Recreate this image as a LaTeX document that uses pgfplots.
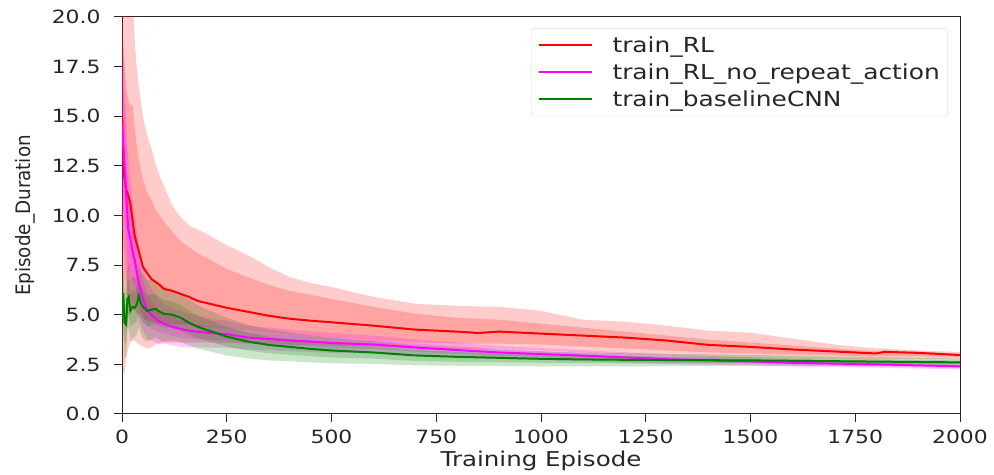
\documentclass[border=0pt]{standalone}
\usepackage{fontspec}
\setmainfont{DejaVu Sans}[FakeStretch=1.2]
\newfontfamily\ylfont{DejaVu Sans}[FakeStretch=0.92]
\usepackage{pgfplots}
\usepgfplotslibrary{fillbetween}
\pgfplotsset{compat=1.18}
\usepackage{pgfplotstable}
\definecolor{mplgreen}{rgb}{0,0.5,0}
\definecolor{mplmag}{rgb}{1,0,1}

\pgfplotstableread{
x m l1 h1 l2 h2
0 15.0 10.0 20.0 2.5 24
5 12.0 7.0 18.0 1.9 24
10 11.3 6.0 16.5 2.8 24
15 11.0 5.7 15.8 3.3 24
20 10.6 5.5 15.5 3.6 24
25 9.8 5.3 15.6 3.7 21
30 9.0 5.2 14.5 3.7 19
35 8.6 5.1 13.6 3.6 17.5
40 8.2 5.0 12.8 3.5 16.5
50 7.4 4.8 11.8 3.4 15
60 7.1 4.7 11.2 3.3 14
70 6.8 4.65 10.8 3.35 13.4
80 6.65 4.6 10.3 3.5 12.6
90 6.5 4.58 10.0 3.55 12.0
100 6.3 4.55 9.7 3.6 11.5
120 6.2 4.52 9.2 3.6 10.5
140 6.05 4.5 8.7 3.6 9.9
160 5.9 4.47 8.4 3.6 9.5
180 5.7 4.43 8.1 3.6 9.3
200 5.6 4.4 7.9 3.6 9.1
250 5.35 4.3 7.3 3.58 8.5
300 5.15 4.2 6.9 3.55 8.0
350 4.95 4.1 6.5 3.52 7.4
400 4.8 4.0 6.2 3.5 6.9
450 4.7 3.92 6.0 3.47 6.6
500 4.62 3.85 5.8 3.45 6.4
600 4.45 3.75 5.4 3.4 5.9
700 4.25 3.6 5.05 3.3 5.55
800 4.15 3.55 4.85 3.28 5.45
850 4.08 3.55 4.8 3.27 5.42
900 4.15 3.55 4.75 3.27 5.4
1000 4.05 3.5 4.55 3.2 5.2
1100 3.95 3.4 4.35 3.1 4.75
1200 3.85 3.3 4.15 3.0 4.65
1300 3.7 3.2 3.95 2.95 4.45
1400 3.48 3.1 3.75 2.85 4.2
1500 3.38 3.05 3.6 2.82 4.1
1600 3.25 3.0 3.45 2.8 3.8
1700 3.15 2.95 3.3 2.78 3.5
1800 3.05 2.9 3.15 2.76 3.3
1820 3.13 2.9 3.2 2.77 3.3
1900 3.08 2.9 3.14 2.78 3.2
2000 2.97 2.88 3.04 2.75 3.12
}\redtab

\pgfplotstableread{
x m l1 h1 l2 h2
0 14.6 11.6 17.6 9.6 19.6
5 12.8 10.0 15.6 8.3 17.3
10 11.0 8.5 13.5 7.0 15.0
15 9.3 7.2 11.4 5.8 12.8
20 8.8 7.0 10.6 5.8 11.8
25 8.2 6.7 9.7 5.6 10.8
30 7.8 6.5 9.1 5.5 10.1
35 7.2 6.0 8.4 5.1 9.3
40 6.6 5.5 7.7 4.7 8.5
50 5.8 4.9 6.7 4.2 7.4
60 5.25 4.45 6.05 3.8 6.7
70 5.0 4.3 5.7 3.7 6.3
80 4.8 4.2 5.4 3.6 6.0
90 4.65 4.1 5.2 3.55 5.75
100 4.55 4.05 5.05 3.55 5.55
120 4.4 3.93 4.87 3.45 5.35
140 4.28 3.84 4.72 3.38 5.18
160 4.2 3.8 4.6 3.35 5.05
180 4.15 3.77 4.53 3.35 4.95
200 4.1 3.75 4.45 3.35 4.85
250 4.02 3.70 4.34 3.34 4.70
300 3.85 3.55 4.15 3.25 4.45
350 3.78 3.50 4.06 3.21 4.35
400 3.7 3.43 3.97 3.16 4.24
450 3.65 3.39 3.91 3.13 4.17
500 3.58 3.33 3.83 3.08 4.08
600 3.5 3.27 3.73 3.05 3.95
700 3.35 3.14 3.56 2.94 3.76
800 3.22 3.03 3.41 2.85 3.59
900 3.1 2.93 3.27 2.77 3.43
1000 3.02 2.87 3.17 2.72 3.32
1100 2.94 2.80 3.08 2.66 3.22
1200 2.85 2.72 2.98 2.59 3.11
1300 2.76 2.64 2.88 2.52 3.00
1400 2.7 2.59 2.81 2.48 2.92
1500 2.65 2.55 2.75 2.45 2.85
1600 2.58 2.48 2.68 2.39 2.77
1700 2.54 2.45 2.63 2.36 2.72
1800 2.5 2.41 2.59 2.33 2.67
1900 2.45 2.37 2.53 2.29 2.61
2000 2.4 2.32 2.48 2.25 2.55
}\magtab

\pgfplotstableread{
x m l1 h1 l2 h2
0 4.8 3.6 6.0 2.8 6.8
3 6.1 5.0 7.2 4.2 8.0
6 4.6 3.6 5.6 2.8 6.4
10 4.5 3.6 5.4 2.9 6.1
13 5.8 4.9 6.7 4.2 7.4
16 5.9 5.0 6.8 4.3 7.5
20 5.2 4.35 6.05 3.65 6.75
25 5.4 4.55 6.25 3.85 6.95
30 5.35 4.55 6.15 3.85 6.85
35 5.5 4.7 6.3 4.0 7.0
40 5.95 5.15 6.75 4.4 7.5
45 5.6 4.8 6.4 4.05 7.15
50 5.4 4.6 6.2 3.8 7.0
60 5.2 4.4 6.0 3.65 6.75
70 5.25 4.47 6.03 3.75 6.75
80 5.3 4.55 6.05 3.85 6.75
90 5.15 4.43 5.87 3.73 6.57
100 5.05 4.35 5.75 3.65 6.45
120 5.0 4.32 5.68 3.7 6.3
140 4.85 4.2 5.5 3.63 6.07
160 4.6 4.0 5.2 3.45 5.75
180 4.4 3.83 4.97 3.3 5.5
200 4.25 3.7 4.8 3.2 5.3
250 3.9 3.4 4.4 2.95 4.85
300 3.65 3.2 4.1 2.8 4.5
350 3.48 3.06 3.9 2.7 4.26
400 3.38 2.98 3.78 2.66 4.10
450 3.28 2.91 3.65 2.60 3.96
500 3.2 2.85 3.55 2.55 3.85
600 3.1 2.79 3.41 2.53 3.67
700 2.95 2.67 3.23 2.45 3.45
800 2.88 2.63 3.13 2.43 3.33
900 2.83 2.61 3.05 2.42 3.24
1000 2.78 2.58 2.98 2.40 3.16
1100 2.75 2.56 2.94 2.40 3.10
1200 2.73 2.55 2.91 2.40 3.06
1300 2.72 2.55 2.89 2.41 3.03
1400 2.71 2.55 2.87 2.41 3.01
1500 2.7 2.55 2.85 2.42 2.98
1600 2.68 2.54 2.82 2.42 2.94
1700 2.66 2.53 2.79 2.42 2.90
1800 2.64 2.52 2.76 2.41 2.87
1900 2.62 2.51 2.73 2.41 2.83
2000 2.6 2.5 2.7 2.4 2.8
}\greentab

\begin{document}
\begin{tikzpicture}
\begin{axis}[
  name=ax,
  scale only axis,
  width=838bp, height=397bp,
  xmin=0, xmax=2000, ymin=0, ymax=20,
  xtick={0,250,...,2000},
  ytick={0,2.5,...,20},
  axis line style={line width=1bp, black!85},
  tick style={line width=1bp, black!85},
  tick align=outside,
  major tick length=8bp,
  xtick pos=bottom, ytick pos=left,
  /pgf/number format/assume math mode=true,
  /pgf/number format/1000 sep={},
  yticklabel style={/pgf/number format/fixed, /pgf/number format/fixed zerofill, /pgf/number format/precision=1, xshift=-10bp},
  xticklabel style={yshift=-4bp},
  ticklabel style={font=\fontsize{18.3}{20}\selectfont, text=black!85},
  xlabel={Training Episode},
  ylabel={\ylfont Episode\_Duration},
  every axis x label/.style={at={(rel axis cs:0.5,0)}, yshift=-47bp, anchor=center, font=\fontsize{20.5}{22}\selectfont, text=black!85},
  every axis y label/.style={at={(rel axis cs:0,0.5)}, xshift=-97bp, rotate=90, anchor=center, font=\fontsize{20}{22}\selectfont, text=black!85},
  legend style={at={(rel axis cs:0.9857,0.972)}, anchor=north east, draw=black!15, rounded corners=3bp, fill=white, font=\fontsize{20.8}{22}\selectfont, text=black!85, row sep=6bp, inner xsep=6bp, inner ysep=6bp,
    /tikz/every odd column/.append style={column sep=18bp}},
  legend cell align=left,
  legend image code/.code={\draw[#1, line width=2bp] (0bp,0bp) -- (53bp,0bp);},
  clip=true,
]
% red bands
\addplot[name path=rH2, draw=none, forget plot] table[x=x,y=h2]{\redtab};
\addplot[name path=rL2, draw=none, forget plot] table[x=x,y=l2]{\redtab};
\addplot[name path=rH1, draw=none, forget plot] table[x=x,y=h1]{\redtab};
\addplot[name path=rL1, draw=none, forget plot] table[x=x,y=l1]{\redtab};
\addplot[fill=red, fill opacity=0.2, draw=none, forget plot] fill between[of=rH2 and rL2];
\addplot[fill=red, fill opacity=0.2, draw=none, forget plot] fill between[of=rH1 and rL1];
% magenta bands
\addplot[name path=mH2, draw=none, forget plot] table[x=x,y=h2]{\magtab};
\addplot[name path=mL2, draw=none, forget plot] table[x=x,y=l2]{\magtab};
\addplot[name path=mH1, draw=none, forget plot] table[x=x,y=h1]{\magtab};
\addplot[name path=mL1, draw=none, forget plot] table[x=x,y=l1]{\magtab};
\addplot[fill=mplmag, fill opacity=0.2, draw=none, forget plot] fill between[of=mH2 and mL2];
\addplot[fill=mplmag, fill opacity=0.2, draw=none, forget plot] fill between[of=mH1 and mL1];
% green bands
\addplot[name path=gH2, draw=none, forget plot] table[x=x,y=h2]{\greentab};
\addplot[name path=gL2, draw=none, forget plot] table[x=x,y=l2]{\greentab};
\addplot[name path=gH1, draw=none, forget plot] table[x=x,y=h1]{\greentab};
\addplot[name path=gL1, draw=none, forget plot] table[x=x,y=l1]{\greentab};
\addplot[fill=mplgreen, fill opacity=0.2, draw=none, forget plot] fill between[of=gH2 and gL2];
\addplot[fill=mplgreen, fill opacity=0.2, draw=none, forget plot] fill between[of=gH1 and gL1];
% means
\addplot[red, line width=2bp, mark=none] table[x=x,y=m]{\redtab};
\addlegendentry{train\_RL}
\addplot[mplmag, line width=2bp, mark=none] table[x=x,y=m]{\magtab};
\addlegendentry{train\_RL\_no\_repeat\_action}
\addplot[mplgreen, line width=2bp, mark=none] table[x=x,y=m]{\greentab};
\addlegendentry{train\_baselineCNN}
\end{axis}
\path ([xshift=-122bp,yshift=-60bp]ax.south west) rectangle ([xshift=34bp,yshift=17bp]ax.north east);
\end{tikzpicture}
\end{document}
